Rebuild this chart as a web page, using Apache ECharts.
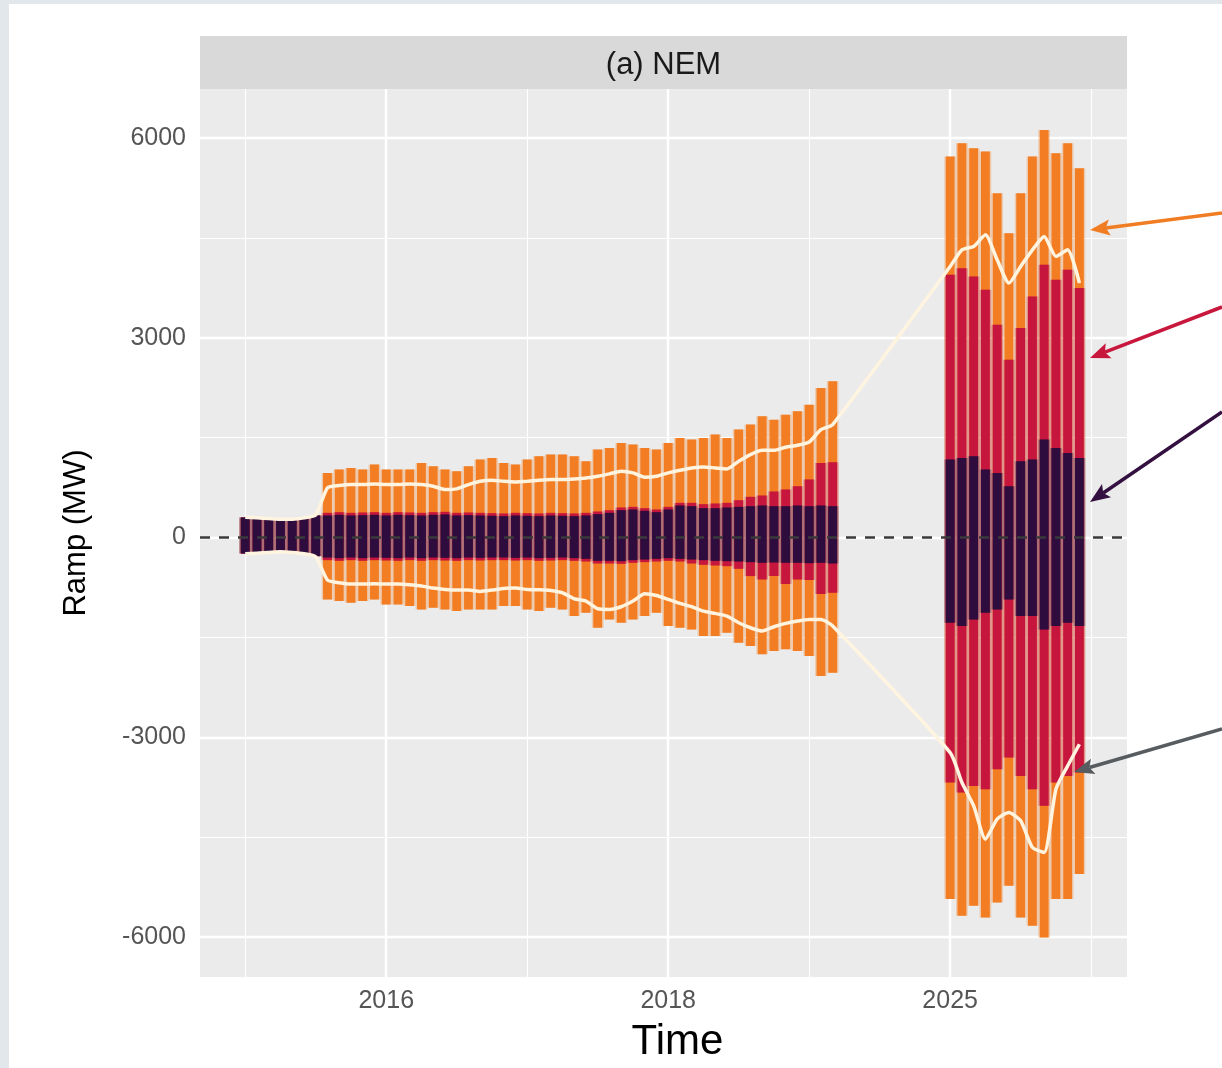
<!DOCTYPE html>
<html>
<head>
<meta charset="utf-8">
<script src="https://cdn.jsdelivr.net/npm/echarts@6/dist/echarts.min.js"></script>
<style>
  html, body { margin: 0; padding: 0; width: 1222px; height: 1068px; overflow: hidden; background: #E1E7EA; }
  #chart { position: absolute; left: 9px; top: 4px; width: 1213px; height: 1064px; background: #ffffff; }
</style>
</head>
<body>
<div id="chart"></div>
<script>
// Monthly ramp distributions for the NEM (historical 2015-2019 and projected 2025)
const periods = [
  '2015-01','2015-02','2015-03','2015-04','2015-05','2015-06','2015-07','2015-08','2015-09','2015-10','2015-11','2015-12',
  '2016-01','2016-02','2016-03','2016-04','2016-05','2016-06','2016-07','2016-08','2016-09','2016-10','2016-11','2016-12',
  '2017-01','2017-02','2017-03','2017-04','2017-05','2017-06','2017-07','2017-08','2017-09','2017-10','2017-11','2017-12',
  '2018-01','2018-02','2018-03','2018-04','2018-05','2018-06','2018-07','2018-08','2018-09','2018-10','2018-11','2018-12',
  '2019-01','2019-02','2019-03',
  '2025-01','2025-02','2025-03','2025-04','2025-05','2025-06','2025-07','2025-08','2025-09','2025-10','2025-11','2025-12'
];

// Outer band (orange)
const orangeHi = [
  300, 290, 280, 270, 270, 290, 330,
  970, 1020, 1045, 1020, 1095, 1020, 1020, 1020, 1120, 1070, 1020, 995, 1070, 1170,
  1195, 1120, 1095, 1170, 1220, 1245, 1245, 1220, 1145, 1320,
  1345, 1420, 1395, 1345, 1320, 1420, 1495, 1470, 1495, 1545,
  1495, 1620, 1695, 1820, 1770, 1845, 1895, 1995, 2245, 2345,
  5720, 5920, 5845, 5795, 5170, 4570, 5170, 5720, 6120, 5770, 5920, 5545
];
const orangeLo = [
  -240, -230, -220, -210, -220, -240, -280,
  -930, -955, -980, -955, -930, -1005, -1005, -1030, -1080, -1055, -1080, -1105, -1080, -1080,
  -1080, -1030, -1030, -1080, -1105, -1055, -1080, -1180, -1130, -1355,
  -1230, -1280, -1230, -1180, -1130, -1330, -1355, -1380, -1480, -1480,
  -1430, -1580, -1630, -1755, -1705, -1680, -1705, -1780, -2080, -2030,
  -5430, -5680, -5530, -5705, -5480, -5230, -5705, -5830, -6005, -5430, -5430, -5055
];

// Middle band (red)
const redHi = [
  300, 290, 280, 270, 270, 290, 330,
  370, 380, 370, 375, 380, 370, 380, 375, 370, 380, 385, 370, 375, 370,
  365, 360, 370, 365, 360, 370, 365, 360, 370, 390,
  410, 450, 460, 440, 420, 460, 520,
  520, 500, 510, 520, 560, 610, 630, 690, 720, 770, 870, 1120, 1130,
  3945, 4045, 3920, 3720, 3195, 2670, 3145, 3620, 4095, 3870, 4020, 3745
];
const redLo = [
  -240, -230, -220, -210, -220, -240, -280,
  -340, -350, -340, -350, -340, -345, -350, -340, -350, -340, -345, -350, -340, -345,
  -340, -340, -345, -340, -350, -345, -340, -350, -360, -390,
  -390, -395, -380, -370, -360, -350, -360,
  -390, -410, -420, -430, -470, -580, -630, -580, -700, -630, -640, -850, -830,
  -3680, -3830, -3730, -3780, -3480, -3305, -3580, -3780, -4030, -3680, -3580, -3530
];

// Inner band (dark purple)
const purpleHi = [
  300, 290, 280, 270, 270, 290, 330,
  330, 340, 330, 335, 340, 330, 340, 335, 330, 340, 345, 330, 335, 330,
  325, 320, 330, 325, 320, 330, 325, 320, 330, 350,
  370, 410, 420, 400, 380, 420, 480, 470, 440, 440,
  450, 460, 470, 480, 470, 470, 480, 470, 480, 470,
  1170, 1195, 1220, 1020, 970, 770, 1145, 1170, 1470, 1345, 1270, 1195
];
const purpleLo = [
  -240, -230, -220, -210, -220, -240, -280,
  -300, -310, -300, -310, -300, -305, -310, -300, -310, -300, -305, -310, -300, -305,
  -300, -300, -305, -300, -310, -305, -300, -310, -320, -350,
  -350, -355, -340, -330, -320, -310, -320, -330, -340, -350,
  -355, -360, -370, -380, -375, -380, -380, -385, -380, -390,
  -1280, -1330, -1230, -1130, -1080, -930, -1180, -1180, -1380, -1330, -1280, -1330
];

// White reference lines (upper and lower)
const lineHi = [
  305, 295, 285, 275, 275, 295, 340,
  745, 780, 795, 795, 805, 795, 795, 805, 795, 770, 720, 730, 795, 845,
  860, 845, 835, 845, 860, 870, 870, 880, 895, 920,
  955, 995, 970, 905, 920, 970, 1010, 1045, 1060, 1045,
  1030, 1145, 1245, 1310, 1310, 1355, 1385, 1435, 1620, 1695,
  4070, 4320, 4370, 4545, 4170, 3820, 4070, 4320, 4520, 4220, 4320, 3820
];
const lineLo = [
  -245, -235, -225, -215, -225, -245, -290,
  -640, -680, -700, -700, -695, -700, -700, -710, -730, -760, -780, -790, -790, -810,
  -790, -765, -760, -780, -785, -795, -830, -920, -955, -1070,
  -1080, -1040, -955, -845, -870, -930, -990, -1040, -1105, -1140,
  -1180, -1280, -1355, -1405, -1340, -1290, -1255, -1230, -1230, -1330,
  -3230, -3680, -4030, -4530, -4230, -4130, -4255, -4655, -4730, -3780, -3430, -3105
];

// Axis ticks
const xTickLabels = ['2016', '2018', '2025'];
const yTicks = [-6000, -3000, 0, 3000, 6000];

// Broken time axis: observed years sit in consecutive yearly slots
const yearSlots = [2015, 2016, 2017, 2018, 2019, 2025];
function slotOf(p) {
  const y = +p.slice(0, 4);
  const m = p.length > 4 ? +p.slice(5, 7) : 1;
  return yearSlots.indexOf(y) * 12 + (m - 1);
}

const xTickPos = xTickLabels.map(slotOf);
const xLabelAt = {};
xTickLabels.forEach((t, i) => { xLabelAt[xTickPos[i]] = t; });
const xMinorPos = [xTickPos[0] - 12].concat(xTickPos.map(v => v + 12));
const yMinor = yTicks.slice(1).map((v, i) => (v + yTicks[i]) / 2);

const COLORS = { orange: '#F27D22', red: '#C6163D', purple: '#2F0C3E' };
const FONT = '"Liberation Sans", Arial, Helvetica, sans-serif';

function bandSeries(name, color, lo, hi, z, extra) {
  return Object.assign({
    type: 'custom',
    name: name,
    z: z,
    silent: true,
    data: periods.map((p, i) => [slotOf(p), lo[i], hi[i]]),
    encode: { x: 0, y: [1, 2] },
    renderItem: function (params, api) {
      const x = api.value(0);
      const top = api.coord([x, api.value(2)]);
      const bot = api.coord([x, api.value(1)]);
      const step = api.size([1, 0])[0];
      const h = bot[1] - top[1];
      return {
        type: 'group',
        children: [
          { type: 'rect', shape: { x: top[0] - step / 2, y: top[1], width: step, height: h },
            style: { fill: color, opacity: 0.3 } },
          { type: 'rect', shape: { x: top[0] - step * 0.375, y: top[1], width: step * 0.75, height: h },
            style: { fill: color } }
        ]
      };
    }
  }, extra || {});
}

const gridLineData = []
  .concat(xTickPos.map(v => ({ xAxis: v, lineStyle: { color: '#ffffff', width: 2.4, type: 'solid' } })))
  .concat(xMinorPos.map(v => ({ xAxis: v, lineStyle: { color: '#ffffff', width: 1.1, type: 'solid' } })))
  .concat(yTicks.map(v => ({ yAxis: v, lineStyle: { color: '#ffffff', width: 2.4, type: 'solid' } })))
  .concat(yMinor.map(v => ({ yAxis: v, lineStyle: { color: '#ffffff', width: 1.1, type: 'solid' } })));

function arrow(tail, tip, color) {
  const dx = tip[0] - tail[0], dy = tip[1] - tail[1];
  const L = Math.hypot(dx, dy), ux = dx / L, uy = dy / L;
  const headLen = 20, headW = 8;
  const bx = tip[0] - ux * headLen, by = tip[1] - uy * headLen;
  const nx = -uy, ny = ux;
  return [
    { type: 'line', silent: true, z: 50,
      shape: { x1: tail[0], y1: tail[1], x2: bx + ux * 4, y2: by + uy * 4 },
      style: { stroke: color, lineWidth: 3.5 } },
    { type: 'polygon', silent: true, z: 50,
      shape: { points: [tip, [bx + nx * headW, by + ny * headW], [bx + ux * 4, by + uy * 4], [bx - nx * headW, by - ny * headW]] },
      style: { fill: color } }
  ];
}

const chart = echarts.init(document.getElementById('chart'), null, { renderer: 'canvas' });

chart.setOption({
  animation: false,
  backgroundColor: '#ffffff',
  grid: {
    left: 191, right: 95, top: 85, bottom: 90,
    show: true, backgroundColor: '#EBEBEB', borderWidth: 0
  },
  xAxis: {
    type: 'value',
    min: -3.85, max: 75.05,
    name: 'Time',
    nameLocation: 'middle',
    nameGap: 44,
    nameTextStyle: { fontSize: 42, color: '#000000', fontFamily: FONT, padding: [0, 0, 0, 28] },
    axisLine: { show: false },
    splitLine: { show: false },
    axisTick: { show: true, customValues: xTickPos, length: 7, lineStyle: { color: '#555555', width: 1.5 } },
    axisLabel: {
      customValues: xTickPos, margin: 12, fontSize: 25, color: '#555555', fontFamily: FONT,
      formatter: v => xLabelAt[v] || ''
    }
  },
  yAxis: {
    type: 'value',
    min: -6600, max: 6735,
    name: 'Ramp (MW)',
    nameLocation: 'middle',
    nameRotate: 90,
    nameGap: 108,
    nameTextStyle: { fontSize: 31, color: '#000000', fontFamily: FONT },
    axisLine: { show: false },
    splitLine: { show: false },
    axisTick: { show: true, customValues: yTicks, length: 7, lineStyle: { color: '#555555', width: 1.5 } },
    axisLabel: {
      customValues: yTicks, margin: 14, fontSize: 25, color: '#555555', fontFamily: FONT,
      formatter: v => String(v)
    }
  },
  series: [
    bandSeries('outer', COLORS.orange, orangeLo, orangeHi, 2, {
      markLine: {
        silent: true, z: 1, animation: false,
        symbol: ['none', 'none'], label: { show: false },
        data: gridLineData
      }
    }),
    bandSeries('middle', COLORS.red, redLo, redHi, 2),
    bandSeries('inner', COLORS.purple, purpleLo, purpleHi, 2),
    {
      type: 'line', name: 'upper', z: 3, silent: true,
      data: periods.map((p, i) => [slotOf(p), lineHi[i]]),
      symbol: 'none', smooth: 0.2,
      lineStyle: { color: '#FFF4E0', width: 3.5 }
    },
    {
      type: 'line', name: 'lower', z: 3, silent: true,
      data: periods.map((p, i) => [slotOf(p), lineLo[i]]),
      symbol: 'none', smooth: 0.2,
      lineStyle: { color: '#FFF4E0', width: 3.5 },
      markLine: {
        silent: true, animation: false,
        symbol: ['none', 'none'], label: { show: false },
        lineStyle: { color: '#3A3A3A', width: 2.5, type: [10, 9] },
        data: [{ yAxis: 0 }]
      }
    }
  ],
  graphic: [
    { type: 'rect', silent: true, z: 0, shape: { x: 191, y: 32, width: 927, height: 53 }, style: { fill: '#D9D9D9' } },
    { type: 'text', silent: true, z: 1, x: 654.5, y: 61,
      style: { text: '(a) NEM', fontSize: 31, fontFamily: FONT, fill: '#1A1A1A',
               align: 'center', verticalAlign: 'middle', textAlign: 'center', textVerticalAlign: 'middle' } }
  ]
    .concat(arrow([1213, 209], [1081, 226], '#F07D23'))
    .concat(arrow([1213, 303], [1081, 354], '#C8173D'))
    .concat(arrow([1213, 408], [1081, 498], '#33103F'))
    .concat(arrow([1213, 725], [1065, 768], '#575C60'))
});
</script>
</body>
</html>
